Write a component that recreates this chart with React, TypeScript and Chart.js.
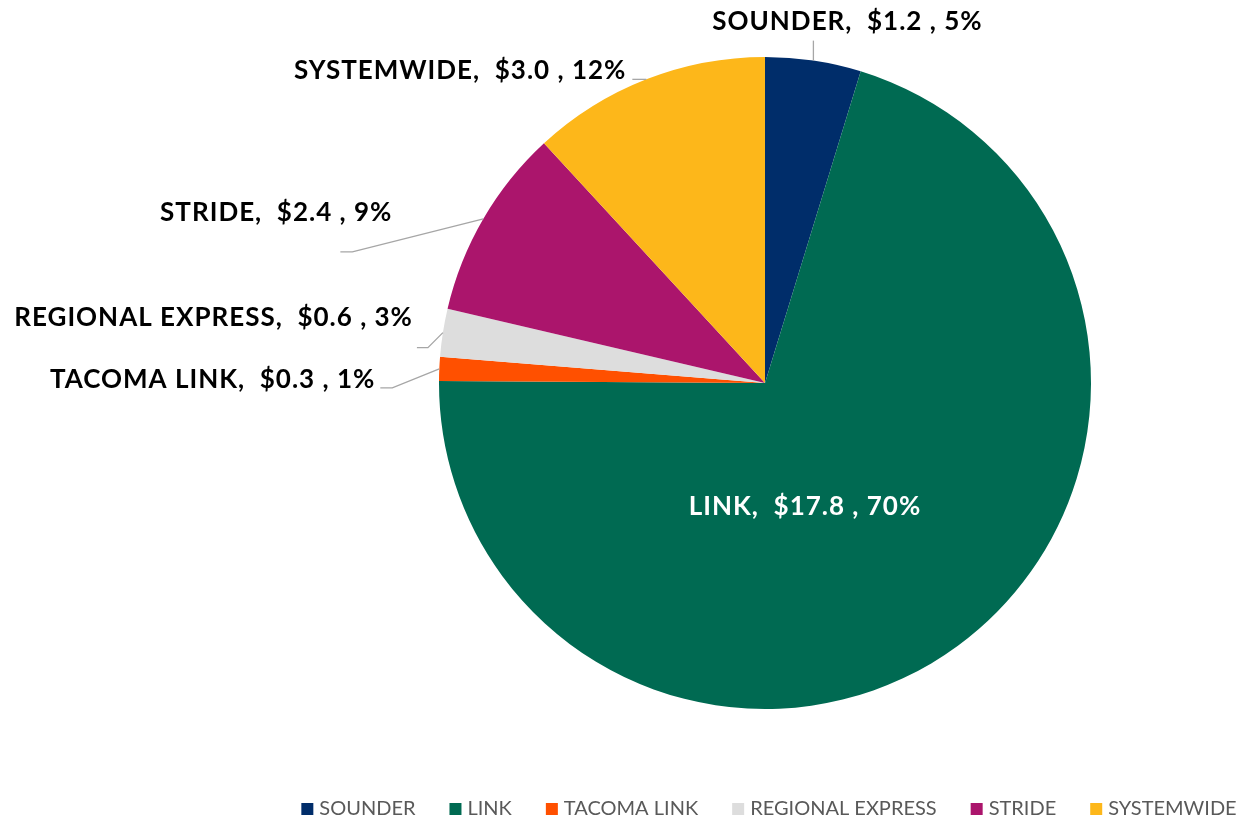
import React, { useEffect, useRef } from "react";
import { Chart, registerables } from "chart.js";

Chart.register(...registerables);

// Capital cost by program ($ billions) and share of total
const categories = ["SOUNDER", "LINK", "TACOMA LINK", "REGIONAL EXPRESS", "STRIDE", "SYSTEMWIDE"];
const costBillions = [1.2, 17.8, 0.3, 0.6, 2.4, 3.0];
const sharePercent = [5, 70, 1, 3, 9, 12];
const sliceColors = ["#002D6A", "#006A52", "#FF5000", "#DDDDDD", "#AB156C", "#FDB71A"];

// Label placement for each slice: leader elbow offset from the slice edge,
// horizontal tail length, and text offset from the end of the leader.
type LabelSpec = {
  inside: boolean;
  elbow: [number, number];
  tail: number;
  text: [number, number];
  align: CanvasTextAlign;
};
const labelLayout: LabelSpec[] = [
  { inside: false, elbow: [0, -20], tail: 0, text: [34, -19], align: "center" },
  { inside: true, elbow: [0, 0], tail: 0, text: [40, 124], align: "center" },
  { inside: false, elbow: [-47, 19], tail: 12, text: [-5, -8], align: "right" },
  { inside: false, elbow: [-15, 15], tail: 11, text: [-4, -30], align: "right" },
  { inside: false, elbow: [-131, 33], tail: 12, text: [52, -39], align: "right" },
  { inside: false, elbow: [0, 0], tail: 14, text: [-6, -9], align: "right" },
];

const LABEL_FONT = "bold 26px Lato, 'Open Sans', sans-serif";
const LEGEND_FONT = "20px Lato, 'Open Sans', sans-serif";

const formatLabel = (i: number) =>
  `${categories[i]},  $${costBillions[i].toFixed(1)} , ${sharePercent[i]}%`;

const sliceLabels = {
  id: "sliceLabels",
  afterDatasetsDraw(chart: Chart) {
    const ctx = chart.ctx;
    const meta = chart.getDatasetMeta(0);
    meta.data.forEach((el: any, i: number) => {
      const { x, y, startAngle, endAngle, outerRadius } = el.getProps(
        ["x", "y", "startAngle", "endAngle", "outerRadius"],
        true
      );
      const mid = (startAngle + endAngle) / 2;
      const spec = labelLayout[i];
      const text = formatLabel(i);
      ctx.save();
      ctx.font = LABEL_FONT;
      (ctx as any).letterSpacing = "1px";
      ctx.textBaseline = "middle";
      if (spec.inside) {
        ctx.fillStyle = "#FFFFFF";
        ctx.textAlign = "center";
        ctx.fillText(text, x + spec.text[0], y + spec.text[1]);
      } else {
        const ax = x + Math.cos(mid) * outerRadius;
        const ay = y + Math.sin(mid) * outerRadius;
        const ex = ax + spec.elbow[0];
        const ey = ay + spec.elbow[1];
        const tx = ex - spec.tail;
        ctx.strokeStyle = "#A6A6A6";
        ctx.lineWidth = 1.3;
        ctx.beginPath();
        ctx.moveTo(ax, ay);
        ctx.lineTo(ex, ey);
        if (spec.tail) ctx.lineTo(tx, ey);
        ctx.stroke();
        ctx.fillStyle = "#000000";
        ctx.textAlign = spec.align;
        ctx.fillText(text, tx + spec.text[0], ey + spec.text[1]);
      }
      ctx.restore();
    });
  },
};

// Legend row along the bottom, centred under the pie
const bottomLegend = {
  id: "bottomLegend",
  afterDraw(chart: Chart) {
    const ctx = chart.ctx;
    const meta = chart.getDatasetMeta(0);
    const cx = (meta.data[0] as any).x;
    const box = 12;
    const textGap = 6;
    const itemGap = 34;
    const rowY = chart.height - 11;
    ctx.save();
    ctx.font = LEGEND_FONT;
    const widths = categories.map((c) => ctx.measureText(c).width);
    const total =
      widths.reduce((s, w) => s + box + textGap + w, 0) + itemGap * (categories.length - 1);
    let left = cx + 4 - total / 2;
    ctx.textBaseline = "middle";
    ctx.textAlign = "left";
    categories.forEach((c, i) => {
      ctx.fillStyle = sliceColors[i];
      ctx.fillRect(left, rowY - box / 2, box, box);
      ctx.fillStyle = "#595959";
      ctx.fillText(c, left + box + textGap, rowY);
      left += box + textGap + widths[i] + itemGap;
    });
    ctx.restore();
  },
};

export default function App() {
  const canvasRef = useRef<HTMLCanvasElement | null>(null);

  useEffect(() => {
    document.body.style.margin = "0";
    const canvas = canvasRef.current;
    if (!canvas) return;
    const chart = new Chart(canvas, {
      type: "pie",
      data: {
        labels: categories,
        datasets: [
          {
            data: costBillions,
            backgroundColor: sliceColors,
            borderWidth: 0,
            radius: 326,
          },
        ],
      },
      options: {
        animation: false,
        responsive: true,
        maintainAspectRatio: false,
        layout: { padding: { left: 300, right: 10, top: 0, bottom: 54 } },
        plugins: {
          legend: { display: false },
          tooltip: { enabled: false },
        },
      },
      plugins: [sliceLabels, bottomLegend],
    });
    return () => chart.destroy();
  }, []);

  return (
    <div style={{ width: 1240, height: 820, position: "relative", background: "#FFFFFF" }}>
      <canvas ref={canvasRef} />
    </div>
  );
}
